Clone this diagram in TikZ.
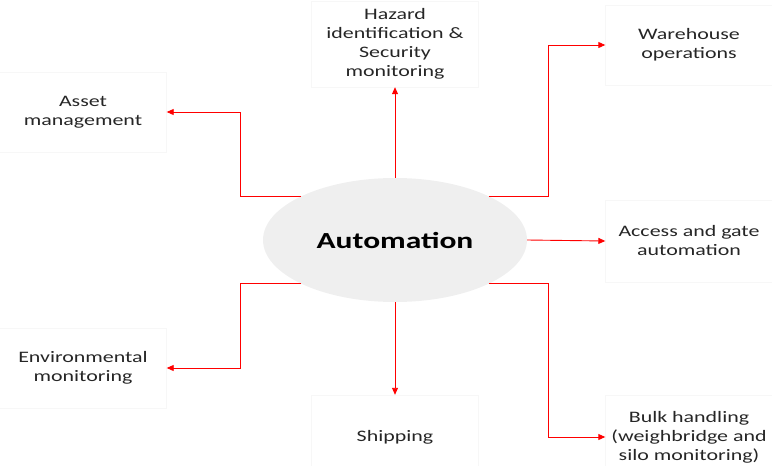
\documentclass[tikz,border=0pt]{standalone}
\usepackage{fontspec}
\setmainfont{Carlito}[FakeStretch=1.37]
\usepackage{xcolor}
\usetikzlibrary{positioning, shapes.geometric, arrows.meta}
\definecolor{hubgray}{HTML}{EFEFEF}
\definecolor{boxline}{HTML}{F7F7F7}
\definecolor{linkred}{HTML}{FF0000}

\begin{document}
\begin{tikzpicture}[x=1pt, y=-1pt,
    area/.style={draw=boxline, minimum width=167pt, minimum height=80pt, align=center,
                 font=\fontsize{16}{19}\selectfont, text=black!85, inner sep=0pt},
    link/.style={draw=linkred, line width=0.9pt, -{Triangle[length=7pt,width=6pt]}}]
       \useasboundingbox (0,0) rectangle (772,466);
       % hub
       \node[ellipse, fill=hubgray, minimum width=264pt, minimum height=124pt, inner sep=0pt,
             font=\fontsize{23}{26}\bfseries\selectfont] (auto) at (395,240) {Automation};
       % boxes
       \node[area, minimum height=86pt] (hazard) at (395,44) {Hazard\\identification \&\\Security\\monitoring};
       \node[area] (asset) at (83,112) {Asset\\management};
       \node[area] (ware) at (689,45) {Warehouse\\operations};
       \node[area, minimum height=82pt] (access) at (689,241) {Access and gate\\automation};
       \node[area, minimum height=84pt] (bulk) at (689,437) {Bulk handling\\(weighbridge and\\silo monitoring)};
       \node[area] (env) at (83,368) {Environmental\\monitoring};
       \node[area, minimum height=84pt] (ship) at (395,437) {Shipping};
       % connectors
       \draw[link] (auto.155) -| ([xshift=74pt]asset.east) -- (asset.east);
       \draw[link] (auto.north) -- (hazard.south);
       \draw[link] (auto.25) -| ([xshift=-57pt]ware.west) -- (ware.west);
       \draw[link] (auto.east) -- (access.west);
       \draw[link] (auto.-25) -| ([xshift=-57pt]bulk.west) -- (bulk.west);
       \draw[link] (auto.-155) -| ([xshift=74pt]env.east) -- (env.east);
       \draw[link] (auto.south) -- (ship.north);
     \end{tikzpicture}
\end{document}
